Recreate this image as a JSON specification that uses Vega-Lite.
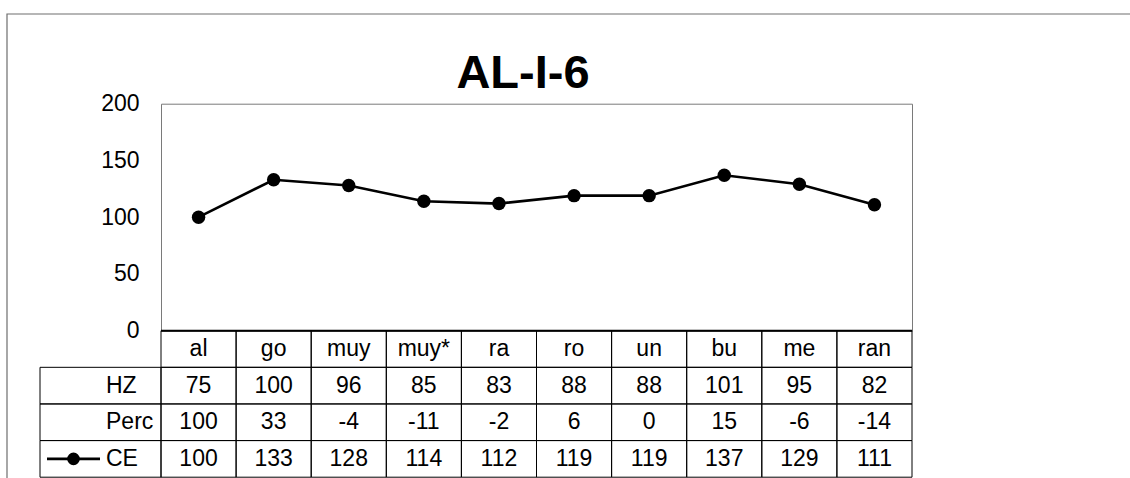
{
  "$schema": "https://vega.github.io/schema/vega-lite/v6.json",
  "autosize": "none",
  "width": 751,
  "height": 227,
  "padding": {"left": 161, "top": 103.7, "right": 218, "bottom": 147.3},
  "background": "white",
  "title": {"text": "AL-I-6", "fontSize": 47, "font": "Liberation Sans", "fontWeight": "bold", "anchor": "middle", "dx": -13.5, "offset": -132, "baseline": "bottom", "color": "black"},
  "datasets": {
    "words": [
      {"w": "al", "HZ": 75, "Perc": 100, "CE": 100},
      {"w": "go", "HZ": 100, "Perc": 33, "CE": 133},
      {"w": "muy", "HZ": 96, "Perc": -4, "CE": 128},
      {"w": "muy*", "HZ": 85, "Perc": -11, "CE": 114},
      {"w": "ra", "HZ": 83, "Perc": -2, "CE": 112},
      {"w": "ro", "HZ": 88, "Perc": 6, "CE": 119},
      {"w": "un", "HZ": 88, "Perc": 0, "CE": 119},
      {"w": "bu", "HZ": 101, "Perc": 15, "CE": 137},
      {"w": "me", "HZ": 95, "Perc": -6, "CE": 129},
      {"w": "ran", "HZ": 82, "Perc": -14, "CE": 111}
    ],
    "rows": [{"row": "HZ"}, {"row": "Perc"}, {"row": "CE"}],
    "one": [{"part": "chart"}]
  },
  "data": {"name": "words"},
  "layer": [
    {
      "data": {"name": "one"},
      "mark": {"type": "rect", "fill": null, "fillOpacity": 0, "stroke": "#6e6e6e", "strokeWidth": 1.2},
      "encoding": {
        "x": {"field": "part", "type": "nominal", "axis": null, "scale": {"type": "band", "domain": ["chart"], "range": [-154, 1400], "paddingInner": 0, "paddingOuter": 0}},
        "y": {"field": "part", "type": "nominal", "axis": null, "scale": {"type": "band", "domain": ["chart"], "range": [-89.7, 700], "paddingInner": 0, "paddingOuter": 0}}
      }
    },
    {
      "mark": {"type": "line", "color": "black", "strokeWidth": 2.6, "point": {"filled": true, "color": "black", "size": 180, "opacity": 1}},
      "encoding": {
        "x": {"field": "w", "type": "nominal", "axis": null, "scale": {"type": "point", "domain": ["al", "go", "muy", "muy*", "ra", "ro", "un", "bu", "me", "ran"], "padding": 0.5}},
        "y": {"field": "CE", "type": "quantitative", "scale": {"domain": [0, 200], "nice": false, "zero": true},
              "axis": {"orient": "left", "values": [0, 50, 100, 150, 200], "ticks": false, "domain": false, "grid": false, "title": null, "labelFont": "Liberation Sans", "labelFontSize": 23, "labelColor": "black", "labelPadding": 22, "labelFlush": false}}
      }
    },
    {
      "data": {"name": "one"},
      "mark": {"type": "rule", "color": "black", "strokeWidth": 2},
      "encoding": {
        "y": {"datum": 0, "type": "quantitative", "axis": null, "scale": {"domain": [0, 200], "nice": false}}
      }
    },
    {
      "mark": {"type": "rect", "fillOpacity": 0, "stroke": "black", "strokeWidth": 1},
      "encoding": {
        "x": {"field": "w", "type": "nominal", "axis": null, "scale": {"type": "band", "domain": ["al", "go", "muy", "muy*", "ra", "ro", "un", "bu", "me", "ran"], "paddingInner": 0, "paddingOuter": 0}},
        "y": {"datum": "cat", "type": "nominal", "axis": null, "scale": {"type": "band", "domain": ["cat", "HZ", "Perc", "CE"], "range": [227, 373.5], "paddingInner": 0, "paddingOuter": 0}}
      }
    },
    {
      "mark": {"type": "text", "font": "Liberation Sans", "fontSize": 23, "color": "black", "baseline": "middle", "align": "center"},
      "encoding": {
        "x": {"field": "w", "type": "nominal", "axis": null, "scale": {"type": "band", "domain": ["al", "go", "muy", "muy*", "ra", "ro", "un", "bu", "me", "ran"], "paddingInner": 0, "paddingOuter": 0}},
        "y": {"datum": "cat", "type": "nominal", "axis": null, "scale": {"type": "band", "domain": ["cat", "HZ", "Perc", "CE"], "range": [227, 373.5], "paddingInner": 0, "paddingOuter": 0}},
        "text": {"field": "w", "type": "nominal"}
      }
    },
    {
      "transform": [{"fold": ["HZ", "Perc", "CE"], "as": ["row", "val"]}],
      "mark": {"type": "rect", "fillOpacity": 0, "stroke": "black", "strokeWidth": 1},
      "encoding": {
        "x": {"field": "w", "type": "nominal", "axis": null, "scale": {"type": "band", "domain": ["al", "go", "muy", "muy*", "ra", "ro", "un", "bu", "me", "ran"], "paddingInner": 0, "paddingOuter": 0}},
        "y": {"field": "row", "type": "nominal", "axis": null, "scale": {"type": "band", "domain": ["cat", "HZ", "Perc", "CE"], "range": [227, 373.5], "paddingInner": 0, "paddingOuter": 0}}
      }
    },
    {
      "transform": [{"fold": ["HZ", "Perc", "CE"], "as": ["row", "val"]}],
      "mark": {"type": "text", "font": "Liberation Sans", "fontSize": 23, "color": "black", "baseline": "middle", "align": "center"},
      "encoding": {
        "x": {"field": "w", "type": "nominal", "axis": null, "scale": {"type": "band", "domain": ["al", "go", "muy", "muy*", "ra", "ro", "un", "bu", "me", "ran"], "paddingInner": 0, "paddingOuter": 0}},
        "y": {"field": "row", "type": "nominal", "axis": null, "scale": {"type": "band", "domain": ["cat", "HZ", "Perc", "CE"], "range": [227, 373.5], "paddingInner": 0, "paddingOuter": 0}},
        "text": {"field": "val", "type": "nominal"}
      }
    },
    {
      "data": {"name": "rows"},
      "mark": {"type": "rect", "fillOpacity": 0, "stroke": "black", "strokeWidth": 1},
      "encoding": {
        "x": {"datum": "hdr", "type": "nominal", "axis": null, "scale": {"type": "band", "domain": ["hdr"], "range": [-121, 0], "paddingInner": 0, "paddingOuter": 0}},
        "y": {"field": "row", "type": "nominal", "axis": null, "scale": {"type": "band", "domain": ["cat", "HZ", "Perc", "CE"], "range": [227, 373.5], "paddingInner": 0, "paddingOuter": 0}}
      }
    },
    {
      "data": {"name": "rows"},
      "mark": {"type": "text", "font": "Liberation Sans", "fontSize": 23, "color": "black", "baseline": "middle", "align": "left"},
      "encoding": {
        "x": {"datum": "lbl", "type": "nominal", "axis": null, "scale": {"type": "band", "domain": ["lbl"], "range": [-110, 0], "paddingInner": 0, "paddingOuter": 0}},
        "y": {"field": "row", "type": "nominal", "axis": null, "scale": {"type": "band", "domain": ["cat", "HZ", "Perc", "CE"], "range": [227, 373.5], "paddingInner": 0, "paddingOuter": 0}},
        "text": {"field": "row", "type": "nominal"}
      }
    },
    {
      "data": {"name": "rows"},
      "transform": [{"filter": "datum.row === 'CE'"}],
      "mark": {"type": "point", "shape": "M-1,0L1,0", "filled": false, "stroke": "black", "strokeWidth": 2.6, "size": 2809, "opacity": 1},
      "encoding": {
        "x": {"datum": "key", "type": "nominal", "axis": null, "scale": {"type": "band", "domain": ["key"], "range": [-114, -61], "paddingInner": 0, "paddingOuter": 0}},
        "y": {"field": "row", "type": "nominal", "axis": null, "scale": {"type": "band", "domain": ["cat", "HZ", "Perc", "CE"], "range": [227, 373.5], "paddingInner": 0, "paddingOuter": 0}}
      }
    },
    {
      "data": {"name": "rows"},
      "transform": [{"filter": "datum.row === 'CE'"}],
      "mark": {"type": "point", "shape": "circle", "filled": true, "color": "black", "size": 160, "opacity": 1},
      "encoding": {
        "x": {"datum": "key", "type": "nominal", "axis": null, "scale": {"type": "band", "domain": ["key"], "range": [-114, -61], "paddingInner": 0, "paddingOuter": 0}},
        "y": {"field": "row", "type": "nominal", "axis": null, "scale": {"type": "band", "domain": ["cat", "HZ", "Perc", "CE"], "range": [227, 373.5], "paddingInner": 0, "paddingOuter": 0}}
      }
    }
  ],
  "resolve": {"scale": {"x": "independent", "y": "independent"}, "axis": {"x": "independent", "y": "independent"}},
  "config": {"view": {"stroke": "#7a7a7a", "strokeWidth": 1}, "font": "Liberation Sans"}
}
